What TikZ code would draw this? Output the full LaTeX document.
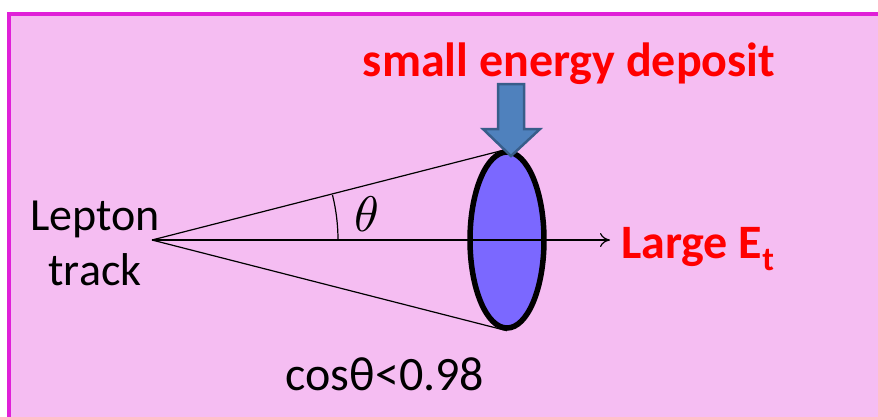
\documentclass[tikz,border=0pt]{standalone}
\usepackage{fontspec}
\setmainfont{Carlito}
\usetikzlibrary{arrows.meta,shapes.geometric,positioning,calc}
\definecolor{panelpink}{HTML}{F5BDF2}
\definecolor{panelrim}{HTML}{E020D8}
\definecolor{calfill}{HTML}{7B68FF}
\definecolor{depfill}{HTML}{4F81BD}
\definecolor{depline}{HTML}{385D8A}
\tikzset{
  track/.style={black, line width=1.2pt},
  calo/.style={ellipse, draw=black, fill=calfill, line width=5.5pt, minimum width=74pt, minimum height=176pt, inner sep=0pt},
  label/.style={font=\fontsize{46}{55}\selectfont, align=center, inner sep=0pt},
  redlabel/.style={font=\fontsize{48}{50}\selectfont\bfseries, text=red, inner sep=0pt}
}
\begin{document}
\begin{tikzpicture}[x=1pt,y=-1pt]
  \useasboundingbox (0,0) rectangle (878,416);
  \draw[panelrim, fill=panelpink, line width=4pt] (9,14) rectangle (890,430);
  \coordinate (apex) at (152,240);
  \node[calo] (cal) at (507,240) {};
  \coordinate (tip) at (610,240);
  \draw[track] (apex) -- (cal.north);
  \draw[track] (apex) -- (cal.south);
  \draw[track, -{To[length=10pt,width=14pt]}] (apex) -- (tip);
  \draw[black, line width=1.2pt] ($(apex)+(186,0)$) arc[start angle=0, end angle=14, radius=186pt, y=1pt];
  % block arrow pointing at the deposit
  \draw[depline, fill=depfill, line width=2.5pt, line join=miter]
    (498,84) -- (524,84) -- (524,129) -- (540,129) -- (511,156) -- (483,129) -- (498,129) -- cycle;
  \node[label] (lepton) at (95,243) {Lepton\\track};
  \node[inner sep=0pt] (theta) at (367,214) {\scalebox{5}{\normalsize$\theta$}};
  \node[label, font=\fontsize{48}{50}\selectfont] (cosine) at (385,374) {cosθ<0.98};
  \node[redlabel] (deposit) at (569,64) {small energy deposit};
  \node[redlabel, anchor=west] (large) at (621,249) {Large E\textsubscript{t}};
\end{tikzpicture}
\end{document}
